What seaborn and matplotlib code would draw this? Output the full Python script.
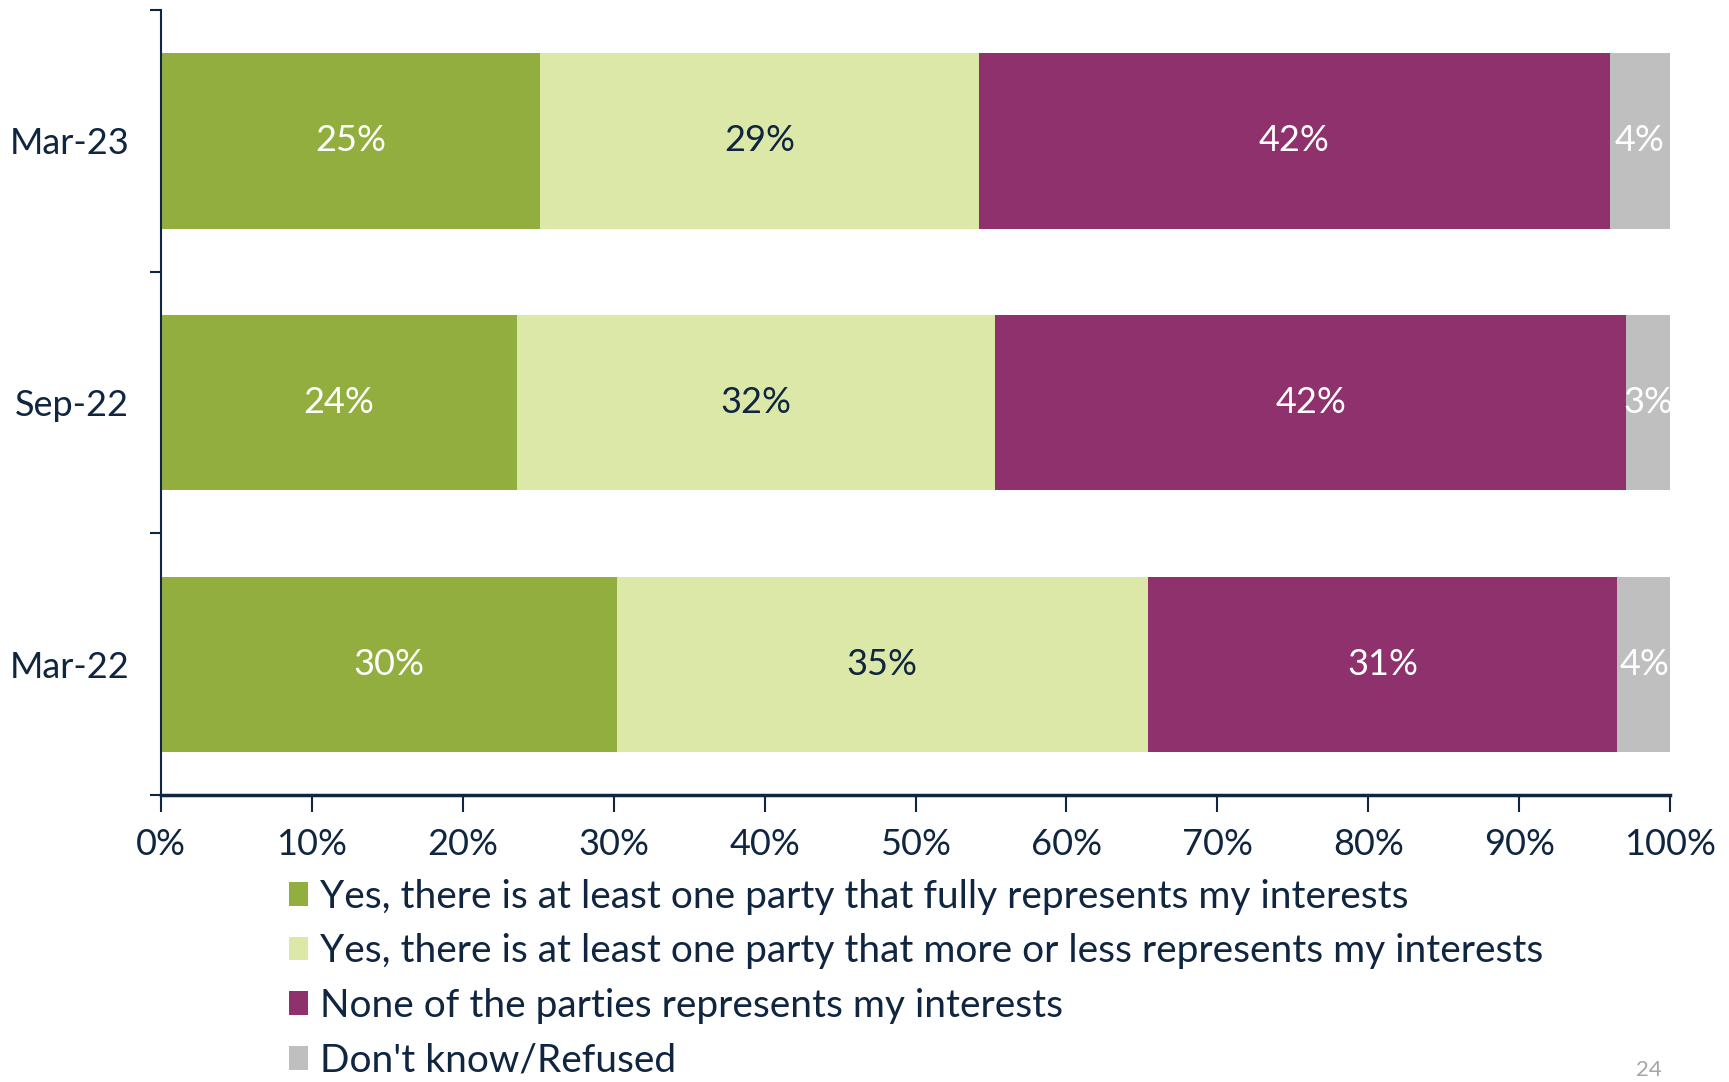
import matplotlib
matplotlib.use("Agg")
import matplotlib.pyplot as plt
from matplotlib.patches import Patch
import seaborn as sns
import pandas as pd
import numpy as np

periods = ["Mar-23", "Sep-22", "Mar-22"]
series_names = [
    "Yes, there is at least one party that fully represents my interests",
    "Yes, there is at least one party that more or less represents my interests",
    "None of the parties represents my interests",
    "Don't know/Refused",
]
fully = [25.1, 23.6, 30.2]
more_or_less = [29.1, 31.7, 35.2]
none_of = [41.8, 41.8, 31.1]
dont_know = [4.0, 2.9, 3.6]
colors = ["#92AE3E", "#DCE8A8", "#8E316C", "#BFBFBF"]
label_colors = ["white", "#0F2540", "white", "white"]
xticks_labels = ["0%", "10%", "20%", "30%", "40%", "50%", "60%", "70%", "80%", "90%", "100%"]

sns.set_theme(style="white")
plt.rcParams["font.family"] = ["Lato", "DejaVu Sans"]
navy = "#0F2540"

series = [fully, more_or_less, none_of, dont_know]
df = pd.DataFrame({"period": periods})
cum = np.zeros(len(periods))
starts = []
for name, vals in zip(series_names, series):
    starts.append(cum.copy())
    cum = cum + np.array(vals)
    df[name] = cum

fig = plt.figure(figsize=(17.29, 10.82), dpi=100)
ax = fig.add_axes([0.0931, 0.2652, 0.8728, 0.7255])

for name, col in reversed(list(zip(series_names, colors))):
    sns.barplot(data=df, x=name, y="period", order=periods, color=col,
                orient="h", width=0.67, ax=ax, saturation=1, linewidth=0)

FS = 26
for vals, st, lc in zip(series, starts, label_colors):
    for i, (v, s) in enumerate(zip(vals, st)):
        ax.text(s + v / 2, i, f"{int(round(v))}%", ha="center", va="center",
                color=lc, fontsize=FS)

ax.set_xlim(0, 100)
ax.set_ylim(2.5, -0.5)
ax.set_xlabel("")
ax.set_ylabel("")
ax.set_xticks(np.arange(0, 101, 10))
ax.set_xticklabels(xticks_labels, fontsize=FS, color=navy)
ax.set_yticks(range(len(periods)))
ax.set_yticklabels(periods, fontsize=FS, color=navy)
ax.set_yticks([-0.5, 0.5, 1.5, 2.5], minor=True)
ax.tick_params(axis="y", which="major", length=0, pad=23)
ax.tick_params(axis="y", which="minor", length=8, width=1.5, color=navy, left=True)
ax.tick_params(axis="x", which="major", length=12, width=1.5, color=navy, bottom=True, pad=12)
for side in ["top", "right"]:
    ax.spines[side].set_visible(False)
ax.spines["left"].set_color(navy)
ax.spines["left"].set_linewidth(1.5)
ax.spines["bottom"].set_color(navy)
ax.spines["bottom"].set_linewidth(2.5)

handles = [Patch(facecolor=c, edgecolor="none") for c in colors]
fig.legend(handles, series_names, loc="upper left", bbox_to_anchor=(0.167, 0.188),
           frameon=False, fontsize=28, labelcolor=navy, handlelength=0.5,
           handleheight=0.55, handletextpad=0.3, labelspacing=0.48, borderpad=0,
           borderaxespad=0)

fig.text(0.946, 0.002, "24", color="#A6A6A6", fontsize=16, ha="left", va="bottom")

fig.savefig("out.png", dpi=100)
